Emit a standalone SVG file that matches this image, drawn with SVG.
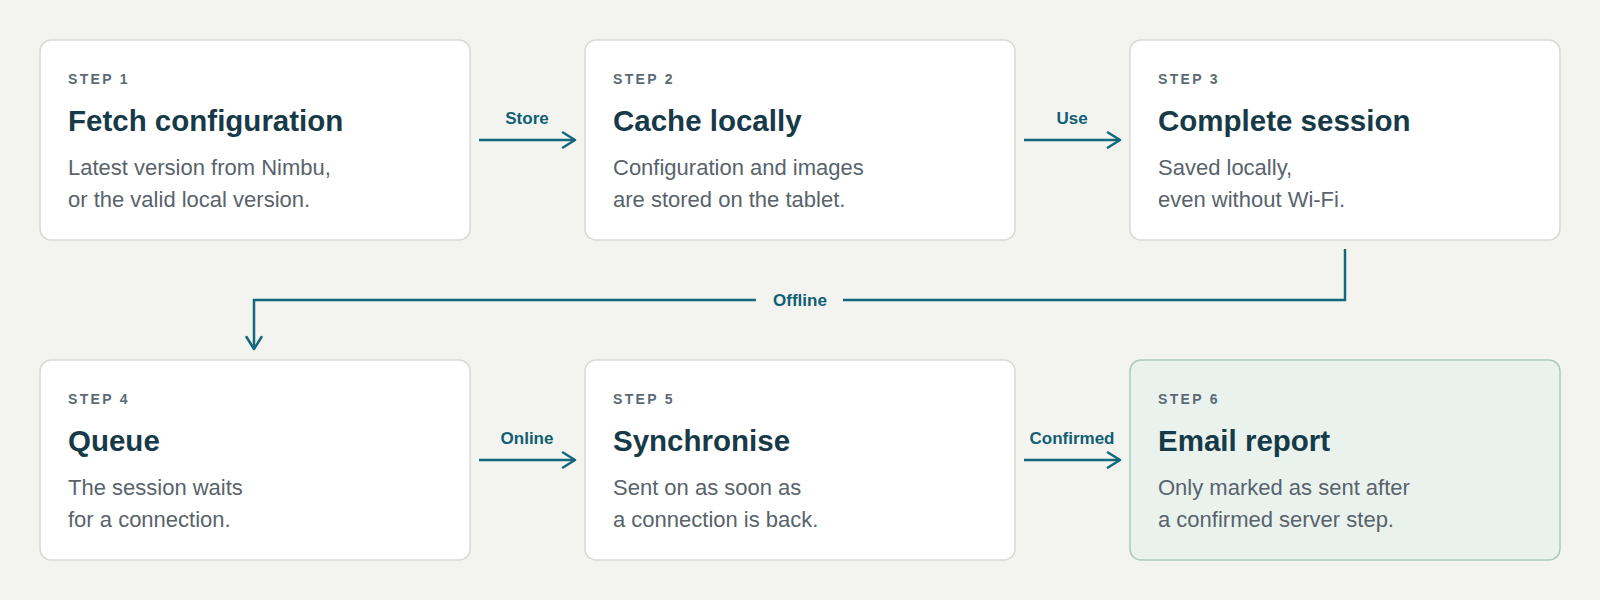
<svg xmlns="http://www.w3.org/2000/svg" width="1600" height="600" viewBox="0 0 1600 600">
  <defs>
    <marker id="arrow" markerUnits="userSpaceOnUse" viewBox="0 0 16 18" refX="14" refY="9" markerWidth="16" markerHeight="18" orient="auto">
      <path d="M2,1.5 L14,9 L2,16.5" fill="none" stroke="#13687d" stroke-width="2.5" stroke-linecap="round" stroke-linejoin="round"/>
    </marker>
    <style>
      .card { fill: #ffffff; stroke: #d7dad4; stroke-width: 1.5; }
      .card.final { fill: #eaf2ed; stroke: #abcab8; }
      .step { font-family: "Liberation Sans", Arial, sans-serif; font-size: 14px; font-weight: 700; letter-spacing: 2.3px; fill: #5b6a73; }
      .title { font-family: "Liberation Sans", Arial, sans-serif; font-size: 29.5px; font-weight: 700; fill: #173a48; }
      .desc { font-family: "Liberation Sans", Arial, sans-serif; font-size: 22px; fill: #58636b; }
      .conn { fill: none; stroke: #13687d; stroke-width: 2.5; }
      .lbl { font-family: "Liberation Sans", Arial, sans-serif; font-size: 17px; font-weight: 700; fill: #105f74; text-anchor: middle; }
    </style>
  </defs>
  <rect x="0" y="0" width="1600" height="600" fill="#f3f4ef"/>

  <g id="connectors">
    <path class="conn" d="M479,140 H575" marker-end="url(#arrow)"/>
    <text class="lbl" x="527" y="124">Store</text>
    <path class="conn" d="M1024,140 H1120" marker-end="url(#arrow)"/>
    <text class="lbl" x="1072" y="124">Use</text>
    <path class="conn" d="M1345,249 V300 H843 M756,300 H254 V349" marker-end="url(#arrow)"/>
    <text class="lbl" x="800" y="306">Offline</text>
    <path class="conn" d="M479,460 H575" marker-end="url(#arrow)"/>
    <text class="lbl" x="527" y="444">Online</text>
    <path class="conn" d="M1024,460 H1120" marker-end="url(#arrow)"/>
    <text class="lbl" x="1072" y="444">Confirmed</text>
  </g>

  <g id="step1">
    <rect class="card" x="40" y="40" width="430" height="200" rx="11"/>
    <text class="step" x="68" y="84">STEP 1</text>
    <text class="title" x="68" y="131">Fetch configuration</text>
    <text class="desc" x="68" y="175">Latest version from Nimbu,</text>
    <text class="desc" x="68" y="207">or the valid local version.</text>
  </g>
  <g id="step2">
    <rect class="card" x="585" y="40" width="430" height="200" rx="11"/>
    <text class="step" x="613" y="84">STEP 2</text>
    <text class="title" x="613" y="131">Cache locally</text>
    <text class="desc" x="613" y="175">Configuration and images</text>
    <text class="desc" x="613" y="207">are stored on the tablet.</text>
  </g>
  <g id="step3">
    <rect class="card" x="1130" y="40" width="430" height="200" rx="11"/>
    <text class="step" x="1158" y="84">STEP 3</text>
    <text class="title" x="1158" y="131">Complete session</text>
    <text class="desc" x="1158" y="175">Saved locally,</text>
    <text class="desc" x="1158" y="207">even without Wi-Fi.</text>
  </g>
  <g id="step4">
    <rect class="card" x="40" y="360" width="430" height="200" rx="11"/>
    <text class="step" x="68" y="404">STEP 4</text>
    <text class="title" x="68" y="451">Queue</text>
    <text class="desc" x="68" y="495">The session waits</text>
    <text class="desc" x="68" y="527">for a connection.</text>
  </g>
  <g id="step5">
    <rect class="card" x="585" y="360" width="430" height="200" rx="11"/>
    <text class="step" x="613" y="404">STEP 5</text>
    <text class="title" x="613" y="451">Synchronise</text>
    <text class="desc" x="613" y="495">Sent on as soon as</text>
    <text class="desc" x="613" y="527">a connection is back.</text>
  </g>
  <g id="step6">
    <rect class="card final" x="1130" y="360" width="430" height="200" rx="11"/>
    <text class="step" x="1158" y="404">STEP 6</text>
    <text class="title" x="1158" y="451">Email report</text>
    <text class="desc" x="1158" y="495">Only marked as sent after</text>
    <text class="desc" x="1158" y="527">a confirmed server step.</text>
  </g>
</svg>
